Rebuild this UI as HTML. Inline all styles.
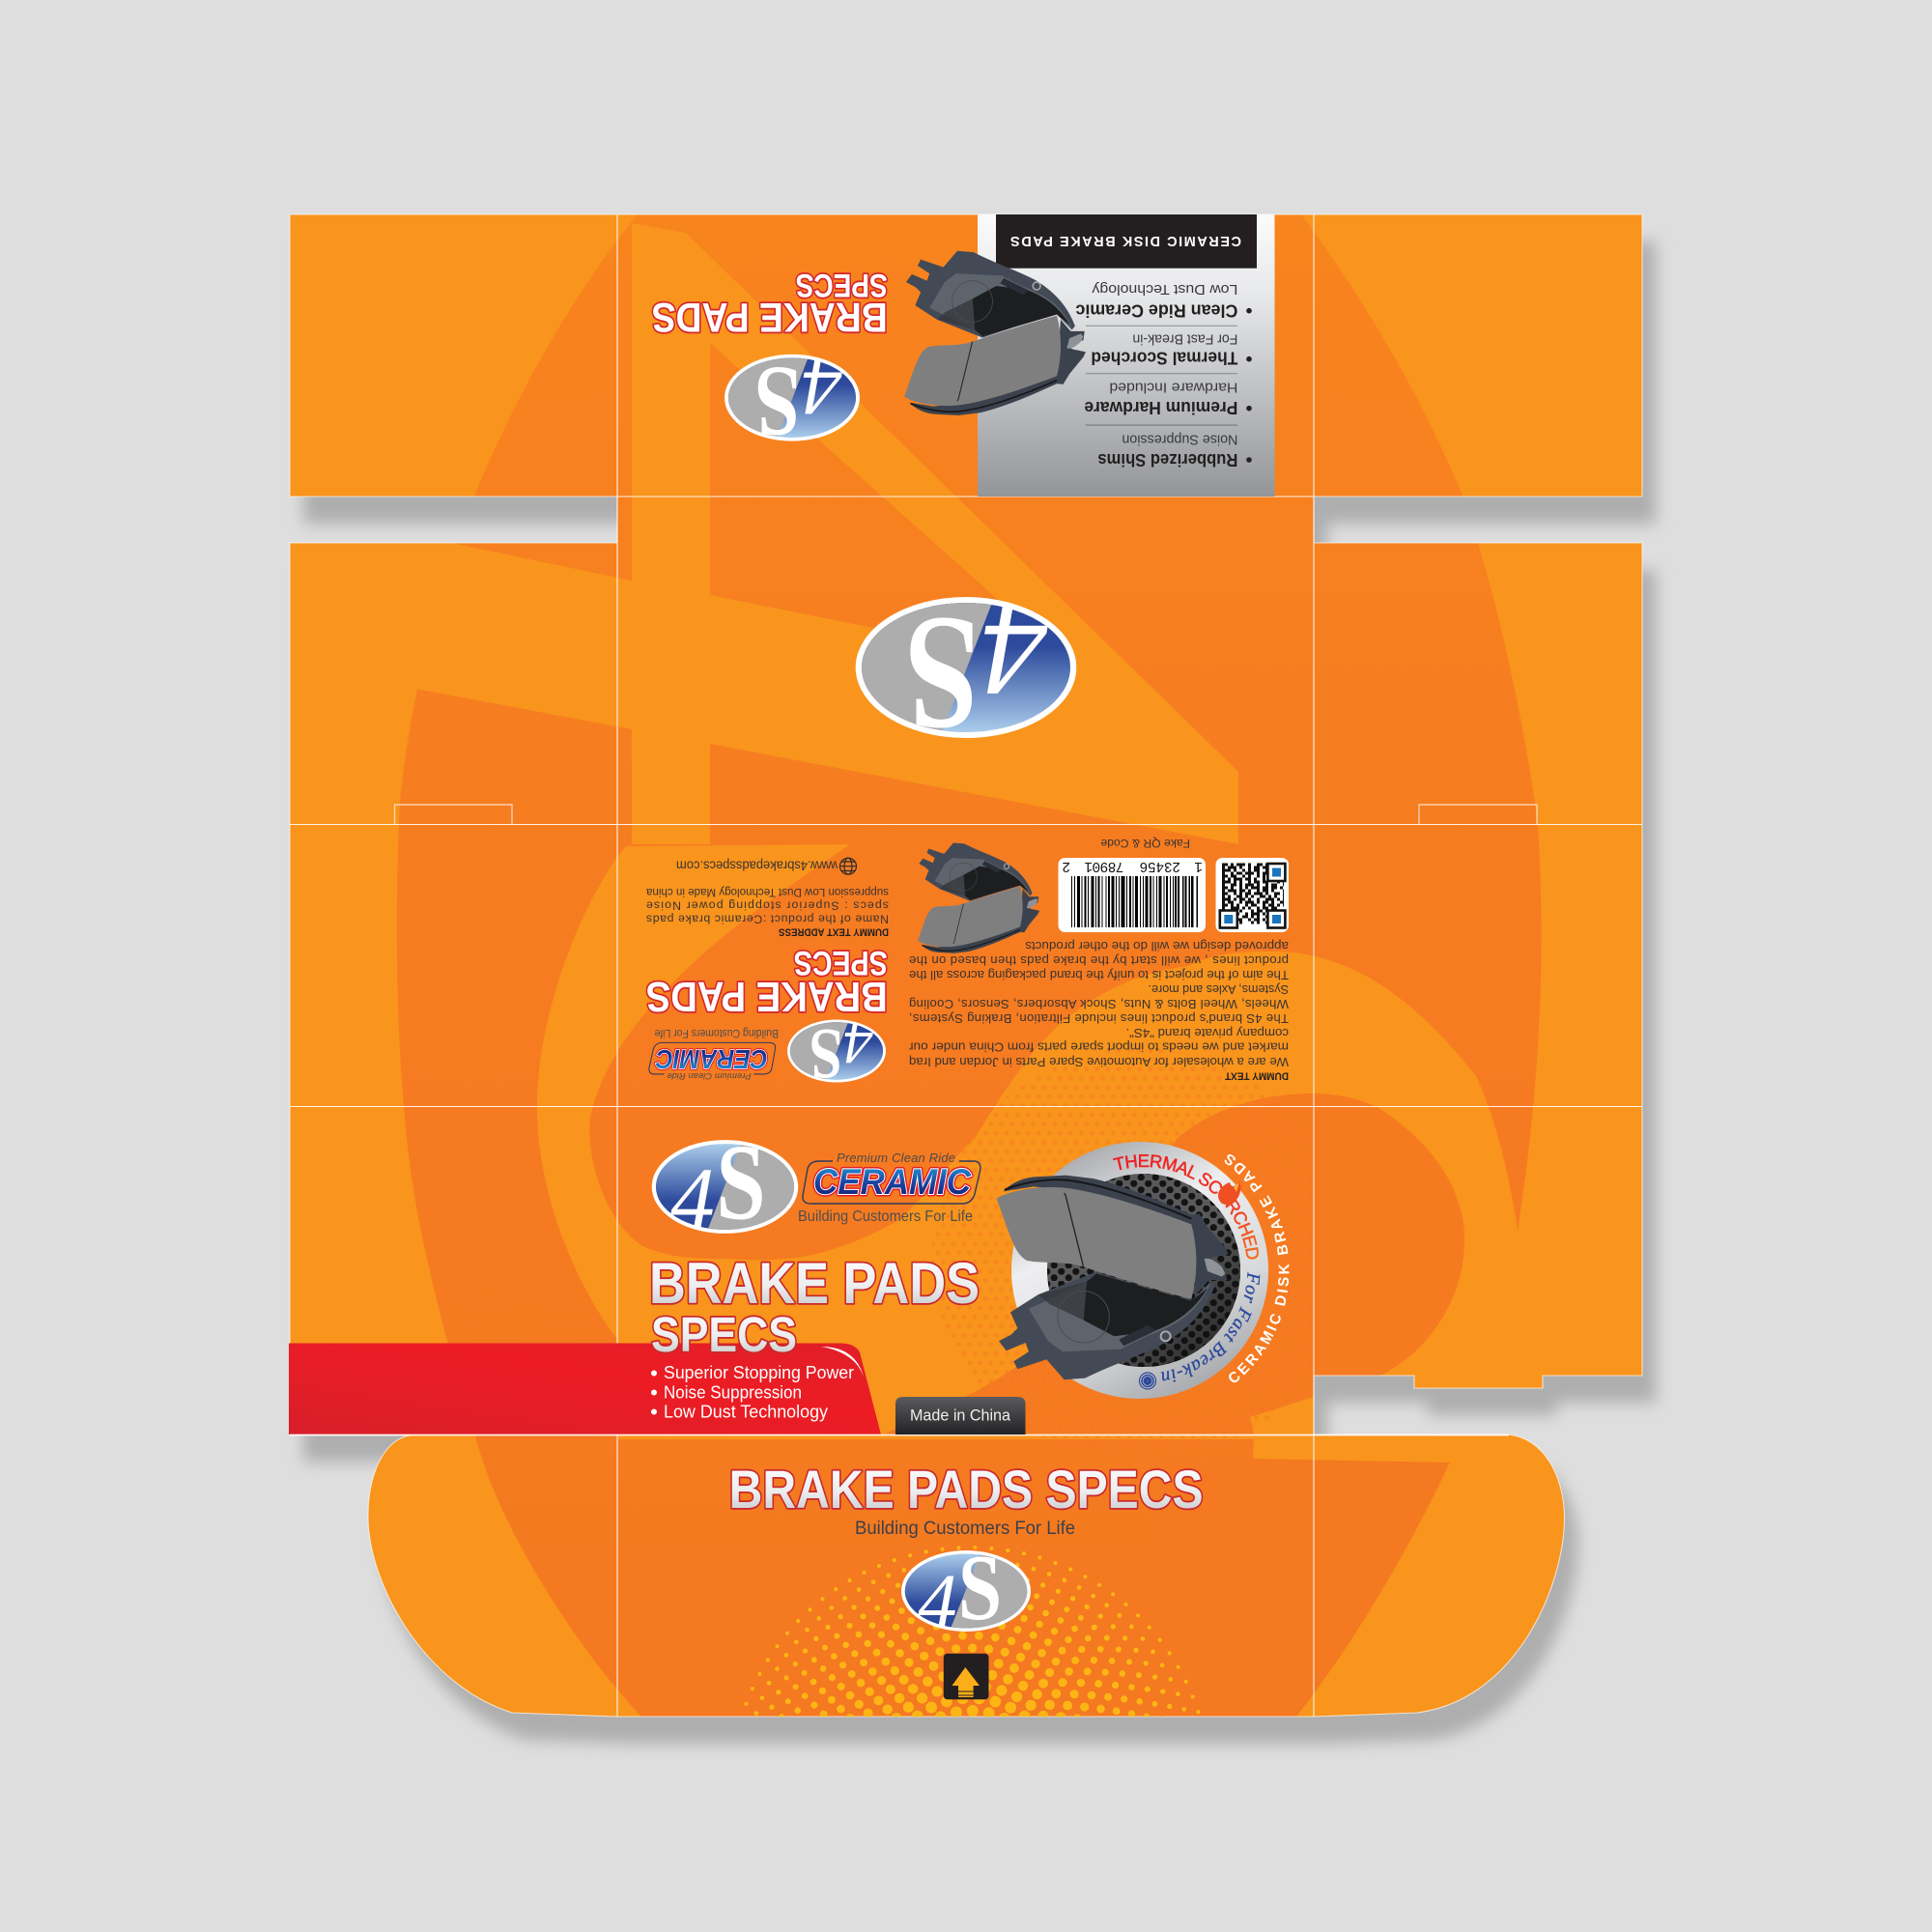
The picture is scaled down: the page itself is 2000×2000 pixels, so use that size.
<!DOCTYPE html>
<html><head><meta charset="utf-8"><title>Brake Pads Specs box dieline</title>
<style>
html,body{margin:0;padding:0;background:#dedede}
svg{display:block;font-family:"Liberation Sans",sans-serif}
.b{font-weight:bold}
.h{font-weight:bold;fill:#fff;stroke:#d5262b;stroke-width:3.6;paint-order:stroke;stroke-linejoin:round}
.f{font-weight:bold;fill:url(#silver);stroke:#c9282c;stroke-width:3.6;paint-order:stroke;stroke-linejoin:round}
.l4{font-family:"Liberation Serif",serif;font-style:italic;font-size:138px;fill:#fff}
.lS{font-family:"Liberation Serif",serif;font-weight:bold;font-size:170px;fill:#fff}
</style></head><body>
<svg xmlns="http://www.w3.org/2000/svg" width="2000" height="2000" viewBox="0 0 2000 2000">
<defs>
<filter id="sh" filterUnits="userSpaceOnUse" x="200" y="150" width="1650" height="1750"><feDropShadow dx="14" dy="28" stdDeviation="8" flood-color="#aeaeae" flood-opacity="1"/></filter>
<clipPath id="pn"><path d="M300,222H1700V514H1360V562H1700V1424H1597V1437H1464V1424H1360V1485H1562C1600,1490 1619,1530 1619.5,1570C1620,1640 1570,1760 1467,1773L1360,1777H639L530,1773C440,1745 381,1640 381,1570C381,1530 395,1490 426,1485.5H300V562H639V514H300Z"/></clipPath>
<linearGradient id="dk" gradientUnits="userSpaceOnUse" x1="0" y1="222" x2="0" y2="1777"><stop offset="0" stop-color="#f8841e"/><stop offset=".5" stop-color="#f67b21"/><stop offset="1" stop-color="#f47920"/></linearGradient>
<linearGradient id="silver" x1="0" y1="0" x2="0" y2="1"><stop offset="0" stop-color="#fff"/><stop offset=".55" stop-color="#eceded"/><stop offset="1" stop-color="#bfc1c3"/></linearGradient>
<linearGradient id="box" x1="0" y1="0" x2="0" y2="1"><stop offset="0" stop-color="#fbfbfb"/><stop offset=".3" stop-color="#e6e7e9"/><stop offset="1" stop-color="#939598"/></linearGradient>
<linearGradient id="red" x1="0" y1="1" x2="1" y2="0"><stop offset="0" stop-color="#d81f2a"/><stop offset=".6" stop-color="#ed1c24"/><stop offset="1" stop-color="#e01f28"/></linearGradient>
<linearGradient id="mic" x1="0" y1="0" x2="0" y2="1"><stop offset="0" stop-color="#5b5b5d"/><stop offset="1" stop-color="#232325"/></linearGradient>
<linearGradient id="lb" gradientUnits="userSpaceOnUse" x1="0" y1="-66" x2="0" y2="22"><stop offset="0" stop-color="#a8cbea"/><stop offset="1" stop-color="#2d4a9c"/></linearGradient>
<linearGradient id="cer" x1="0" y1="0" x2="0" y2="1"><stop offset="0" stop-color="#22a3dd"/><stop offset=".55" stop-color="#1c3f9e"/><stop offset="1" stop-color="#141f66"/></linearGradient>
<linearGradient id="rg" x1="0.2" y1="0" x2="0.7" y2="1"><stop offset="0" stop-color="#9c9ea1"/><stop offset=".35" stop-color="#eeeef0"/><stop offset=".7" stop-color="#d8d9db"/><stop offset="1" stop-color="#a4a6a9"/></linearGradient>
<linearGradient id="trd" gradientUnits="userSpaceOnUse" x1="1150" y1="1210" x2="1285" y2="1320"><stop offset="0" stop-color="#ed1c24"/><stop offset=".7" stop-color="#ee3a24"/><stop offset="1" stop-color="#f37021"/></linearGradient>
<linearGradient id="hd" x1="0.2" y1="0.2" x2="1" y2="1"><stop offset=".45" stop-color="#111" stop-opacity="0"/><stop offset="1" stop-color="#0c0c0d" stop-opacity=".8"/></linearGradient>
<clipPath id="lc"><ellipse cx="0" cy="0" rx="108" ry="67"/></clipPath>
<clipPath id="dc"><circle cx="1180" cy="1300" r="215"/></clipPath>
<clipPath id="ht"><rect x="700" y="1560" width="620" height="217"/></clipPath>
<pattern id="dots" width="11" height="19" patternUnits="userSpaceOnUse"><circle cx="2.75" cy="4.75" r="2.4" fill="#f47620"/><circle cx="8.25" cy="14.25" r="2.4" fill="#f47620"/></pattern>
<pattern id="hex" width="15" height="13" patternUnits="userSpaceOnUse"><rect width="15" height="13" fill="#5a5a5c"/><circle cx="3.75" cy="3.25" r="3.6" fill="#141415"/><circle cx="11.25" cy="9.75" r="3.6" fill="#141415"/></pattern>
<g id="pad">
<path d="M42,655L80,635L100,615L78,565L165,510L345,440L500,490L640,530L700,470L712,485C680,570 620,625 550,665C480,700 390,730 310,770L245,775L190,712L100,742L88,718L135,688L125,660L65,685Z" fill="#434a56"/>
<path d="M135,555L315,470L345,445L640,530L700,475C660,560 610,600 500,640L420,680L240,688L195,655Z" fill="#5e646c"/>
<path d="M315,470L345,445L640,530L690,490C650,560 590,600 520,625L400,640L305,590Z" fill="#1d1e20"/>
<path d="M165,512L315,470L305,590L200,540Z" fill="#34373c" opacity=".8"/>
<circle cx="305" cy="580" r="80" fill="none" stroke="#4a4c50" stroke-width="3"/>
<path d="M415,650L505,605L530,622L430,670Z" fill="#2a2e36"/>
<path d="M55,190C80,165 110,150 150,145L250,140L335,150C400,165 500,200 600,245L640,262L665,260L690,300L745,365L755,385L705,395L680,405L690,420L745,430L750,465L695,465L655,510L640,300C500,250 300,190 150,175Z" fill="#3c424d"/>
<path d="M60,185C120,160 200,150 250,155C350,165 500,215 640,275" fill="none" stroke="#15171a" stroke-width="6"/>
<path d="M35,212C70,190 150,172 240,178C350,190 500,240 640,292C655,350 665,430 640,525C560,505 430,465 305,425C250,405 180,415 130,405C100,390 85,350 70,310Z" fill="#7f7f80"/>
<path d="M245,195L250,205L305,425" fill="none" stroke="#232325" stroke-width="4"/>
<path d="M680,400Q700,392 735,425L745,445L735,455L690,438Z" fill="#8f9296"/>
<circle cx="560" cy="640" r="15" fill="none" stroke="#a8aaad" stroke-width="6"/>
</g>
</defs>
<rect width="2000" height="2000" fill="#dedede"/>
<path filter="url(#sh)" fill="#f9941d" d="M300,222H1700V514H1360V562H1700V1424H1597V1437H1464V1424H1360V1485H1562C1600,1490 1619,1530 1619.5,1570C1620,1640 1570,1760 1467,1773L1360,1777H639L530,1773C440,1745 381,1640 381,1570C381,1530 395,1490 426,1485.5H300V562H639V514H300Z"/>
<g clip-path="url(#pn)">
<path fill="url(#dk)" d="M660,222C585,315 530,420 491,513C455,600 425,720 414,830C408,950 410,1100 425,1210C435,1290 470,1420 492,1486C515,1580 600,1710 664,1777L1342,1777C1410,1690 1465,1590 1501,1514L1571,1274C1595,1120 1600,980 1592,854C1583,780 1555,630 1514,513C1475,420 1420,320 1347,222Z"/>
<path fill="#f9941d" d="M472,563L654,601V231L710,241L1282,799V874L735,770V874H654V755L420,711Z"/>
<path fill="url(#dk)" d="M735,355L1113,692L735,616Z"/>
<path fill="#f9941d" d="M648,876L880,874C800,930 640,1030 611,1156C605,1215 640,1285 676,1294C700,1303 730,1303 749,1303C790,1305 810,1305 841,1299C880,1290 920,1270 933,1261C960,1235 990,1195 1010,1177C1050,1110 1085,1065 1115,1046C1150,1020 1190,1005 1230,1000C1260,985 1290,985 1321,985C1360,985 1400,1000 1432,1021C1475,1050 1505,1085 1528,1114C1550,1160 1565,1230 1571,1274L1700,1274V1490H640L639,1387C590,1320 556,1230 556,1145C556,1040 610,920 648,876Z"/>
<path fill="#f57a20" d="M912,1486L1001,1445C1040,1425 1060,1410 1070,1400C1110,1350 1150,1270 1220,1177C1260,1145 1310,1132 1360,1132C1400,1132 1427,1147 1427,1147C1480,1180 1516,1230 1516,1282C1516,1350 1475,1400 1431,1423L1294,1467L1298,1486Z"/>
<path fill="#f9941d" d="M1298,1485H1702V1520H1501L1297,1510Z"/>
<path fill="#f47920" d="M1297,1510L1501,1514L1342,1777H1200V1510Z"/>
</g>
<g clip-path="url(#dc)"><rect x="639" y="1050" width="721" height="480" fill="url(#dots)" opacity=".45"/></g>
<!-- fold lines -->
<g fill="none" stroke="#fff" stroke-width="1.1" opacity=".9">
<path d="M639,222V1777M1360,222V1777"/>
<path d="M300,853.5H1700M300,1145.5H1700M639,514H1360"/>
<path d="M408.5,853V833H530V853M1469,853V833H1591V853" opacity=".7" stroke-width="1.4"/>
<path d="M300,222H1700V514H1360V562H1700V1424H1597V1437H1464V1424H1360V1485H1562C1600,1490 1619,1530 1619.5,1570C1620,1640 1570,1760 1467,1773L1360,1777H639L530,1773C440,1745 381,1640 381,1570C381,1530 395,1490 426,1485.5H300V562H639V514H300Z" opacity=".75"/>
</g>
<!-- gray panel -->
<rect x="1012" y="222" width="307.5" height="292" fill="url(#box)"/>
<rect x="1031" y="222" width="270" height="55.7" fill="#231f20"/>
<text transform="translate(1285,245) rotate(180)" class="b" fill="#fff" font-size="14.5" textLength="239" lengthAdjust="spacing">CERAMIC DISK BRAKE PADS</text>
<g><rect x="1124" y="336.7" width="157" height="1.2" fill="#9a9b9e"/><rect x="1124" y="386" width="157" height="1.3" fill="#929396"/><rect x="1124" y="439.3" width="157" height="1.6" fill="#898a8d"/></g>
<g fill="#231f20"><circle cx="1293" cy="321.7" r="2.8"/><circle cx="1293" cy="371.7" r="2.8"/><circle cx="1293" cy="422.7" r="2.8"/><circle cx="1293" cy="476" r="2.8"/></g>
<g fill="#231f20" font-size="18" class="b">
<text transform="translate(1281.4,315.3) rotate(180)" textLength="168" lengthAdjust="spacingAndGlyphs">Clean Ride Ceramic</text>
<text transform="translate(1281.4,364.3) rotate(180)" textLength="152" lengthAdjust="spacingAndGlyphs">Thermal Scorched</text>
<text transform="translate(1281.4,416) rotate(180)" textLength="159" lengthAdjust="spacingAndGlyphs">Premium Hardware</text>
<text transform="translate(1281.4,470) rotate(180)" textLength="145" lengthAdjust="spacingAndGlyphs">Rubberized Shims</text>
</g>
<g fill="#3a3a3c" font-size="15">
<text transform="translate(1281.4,295) rotate(180)" textLength="151" lengthAdjust="spacingAndGlyphs">Low Dust Technology</text>
<text transform="translate(1281.4,346.7) rotate(180)" textLength="109" lengthAdjust="spacingAndGlyphs">For Fast Break-in</text>
<text transform="translate(1281.4,396.7) rotate(180)" textLength="133" lengthAdjust="spacingAndGlyphs">Hardware Included</text>
<text transform="translate(1281.4,450.7) rotate(180)" textLength="120" lengthAdjust="spacingAndGlyphs">Noise Suppression</text>
</g>
<use href="#pad" transform="translate(927,467.5) scale(.261,-.268)"/>
<!-- top headings -->
<text transform="translate(918.7,314) rotate(180)" class="h" font-size="43" textLength="244" lengthAdjust="spacingAndGlyphs">BRAKE PADS</text>
<text transform="translate(918.7,284) rotate(180)" class="h" font-size="34" textLength="95" lengthAdjust="spacingAndGlyphs">SPECS</text>
<!-- logos -->
<g transform="translate(820,411.7) rotate(180) scale(.612,.616)"><ellipse rx="114.3" ry="73" fill="#fff"/><g clip-path="url(#lc)"><rect x="-120" y="-80" width="240" height="160" fill="url(#lb)"/><path d="M30,-80L-32,80H120V-80Z" fill="#adadad"/></g><text x="-85" y="64" class="l4">4</text><text transform="translate(-14,50) scale(.82,1)" class="lS">S</text></g>
<g transform="translate(1000,691) rotate(180)"><ellipse rx="114.3" ry="73" fill="#fff"/><g clip-path="url(#lc)"><rect x="-120" y="-80" width="240" height="160" fill="url(#lb)"/><path d="M30,-80L-32,80H120V-80Z" fill="#adadad"/></g><text x="-85" y="64" class="l4">4</text><text transform="translate(-14,50) scale(.82,1)" class="lS">S</text></g>
<g transform="translate(866,1088) rotate(180) scale(.446,.445)"><ellipse rx="114.3" ry="73" fill="#fff"/><g clip-path="url(#lc)"><rect x="-120" y="-80" width="240" height="160" fill="url(#lb)"/><path d="M30,-80L-32,80H120V-80Z" fill="#adadad"/></g><text x="-85" y="64" class="l4">4</text><text transform="translate(-14,50) scale(.82,1)" class="lS">S</text></g>
<!-- back panel -->
<use href="#pad" transform="translate(944,1012) scale(.175,-.18)"/>
<text transform="translate(918.7,1017) rotate(180)" class="h" font-size="44" textLength="250" lengthAdjust="spacingAndGlyphs">BRAKE PADS</text>
<text transform="translate(918.7,985) rotate(180)" class="h" font-size="35" textLength="97" lengthAdjust="spacingAndGlyphs">SPECS</text>
<g fill="#3a3330" font-size="12.3">
<text transform="translate(920,961.7) rotate(180)" class="b" font-size="11" textLength="114" lengthAdjust="spacingAndGlyphs" fill="#231f20">DUMMY TEXT ADDRESS</text>
<text transform="translate(920,947.3) rotate(180)" textLength="251" lengthAdjust="spacing">Name of the product :Ceramic brake pads</text>
<text transform="translate(920,933.3) rotate(180)" textLength="251" lengthAdjust="spacing">specs : Superior stopping power Noise</text>
<text transform="translate(920,920) rotate(180)" textLength="251" lengthAdjust="spacingAndGlyphs">suppression Low Dust Technology Made in china</text>
<text transform="translate(867,891.7) rotate(180)" font-size="13.5" textLength="167" lengthAdjust="spacingAndGlyphs">www.4sbrakepadsspecs.com</text>
</g>
<g fill="none" stroke="#2b2b2b" stroke-width="1.2"><circle cx="878" cy="896.7" r="8.5"/><ellipse cx="878" cy="896.7" rx="4" ry="8.5"/><path d="M869.5,896.7H886.5M871,892H885M871,901.5H885"/></g>
<g fill="#3a3330" font-size="13.2">
<text transform="translate(1334,1110.7) rotate(180)" class="b" font-size="11" textLength="66" lengthAdjust="spacingAndGlyphs" fill="#231f20">DUMMY TEXT</text>
<text transform="translate(1334,1095) rotate(180)" textLength="393" lengthAdjust="spacingAndGlyphs">We are a wholesaler for Automotive Spare Parts in Jordan and Iraq</text>
<text transform="translate(1334,1079.3) rotate(180)" textLength="393" lengthAdjust="spacingAndGlyphs">market and we needs to import spare parts from China under our</text>
<text transform="translate(1334,1065) rotate(180)" textLength="168.5" lengthAdjust="spacingAndGlyphs">company private brand "4S".</text>
<text transform="translate(1334,1050) rotate(180)" textLength="393" lengthAdjust="spacing">The 4S brand's product lines include Filtration, Braking Systems,</text>
<text transform="translate(1334,1035) rotate(180)" textLength="393" lengthAdjust="spacing">Wheels, Wheel Bolts &amp; Nuts, Shock Absorbers, Sensors, Cooling</text>
<text transform="translate(1334,1020) rotate(180)" textLength="145.5" lengthAdjust="spacingAndGlyphs">Systems, Axles and more.</text>
<text transform="translate(1334,1005) rotate(180)" textLength="393" lengthAdjust="spacingAndGlyphs">The aim of the project is to unify the brand packaging across all the</text>
<text transform="translate(1334,990) rotate(180)" textLength="393" lengthAdjust="spacing">product lines , we will start by the brake pads then based on the</text>
<text transform="translate(1334,975) rotate(180)" textLength="272.7" lengthAdjust="spacingAndGlyphs">approved design we will do the other products</text>
<text transform="translate(1232,869) rotate(180)" font-size="12" textLength="92.5" lengthAdjust="spacingAndGlyphs">Fake QR &amp; Code</text>
</g>
<rect x="1095.5" y="888" width="152.5" height="77" rx="7" fill="#fff"/>
<line x1="1109" x2="1240" y1="933.5" y2="933.5" stroke="#000" stroke-width="53" stroke-dasharray="1 2 1 2 3 1.5 1 2 2 1.5 1 2.5 3 1.5 1 1.5 2 2 1 3 1 1.5 2 1.5 3 1.5 1 2 1 1.5 4 1.5 1 2 2 1.5 1 1.5 3 2 1 2 1 1.5 3 1.5 2 1.5 1 2.5 1 1.5 3 2 1 1.5 2 2 1 2 1"/>
<g font-family="Liberation Mono" font-size="14.5" fill="#111">
<text transform="translate(1245,893) rotate(180)">1</text>
<text transform="translate(1222,893) rotate(180)" textLength="42.5">23456</text>
<text transform="translate(1163.4,893) rotate(180)" textLength="41">78901</text>
<text transform="translate(1108,893) rotate(180)">2</text>
</g>
<rect x="1258.5" y="888" width="75.5" height="77" rx="7" fill="#fff"/>
<g stroke="#111" stroke-width="3">
<line x1="1265" x2="1329" y1="895" y2="895" stroke-dasharray="6 3 3 3 9 3 3 6 6 3 3 6"/>
<line x1="1265" x2="1329" y1="898" y2="898" stroke-dasharray="3 3 9 3 3 6 3 3 6 3 9"/>
<line x1="1265" x2="1329" y1="901" y2="901" stroke-dasharray="9 3 3 6 3 3 3 3 6 6"/>
<line x1="1265" x2="1329" y1="904" y2="904" stroke-dasharray="3 6 3 3 6 3 9 3 3"/>
<line x1="1265" x2="1329" y1="907" y2="907" stroke-dasharray="6 3 6 6 3 3 3 6 3 3 3"/>
<line x1="1265" x2="1329" y1="910" y2="910" stroke-dasharray="3 3 3 3 9 3 6 3 3 6"/>
<line x1="1265" x2="1329" y1="913" y2="913" stroke-dasharray="9 3 3 3 3 6 3 3 6 3 6"/>
<line x1="1265" x2="1329" y1="916" y2="916" stroke-dasharray="3 6 6 3 3 3 9 3 3 6 3"/>
<line x1="1265" x2="1329" y1="919" y2="919" stroke-dasharray="6 3 3 6 3 3 3 3 9 3 6 3"/>
<line x1="1265" x2="1329" y1="922" y2="922" stroke-dasharray="3 3 9 3 6 3 3 6 3 3 6"/>
<line x1="1265" x2="1329" y1="925" y2="925" stroke-dasharray="6 6 3 3 3 3 6 3 9 3 3"/>
<line x1="1265" x2="1329" y1="928" y2="928" stroke-dasharray="3 3 3 6 6 3 3 3 3 6 6 3"/>
<line x1="1265" x2="1329" y1="931" y2="931" stroke-dasharray="9 3 3 3 6 3 3 6 3 6"/>
<line x1="1265" x2="1329" y1="934" y2="934" stroke-dasharray="3 3 6 6 3 3 9 3 3 3 6"/>
<line x1="1265" x2="1329" y1="937" y2="937" stroke-dasharray="6 3 3 3 3 6 3 3 6 6 3 3"/>
<line x1="1265" x2="1329" y1="940" y2="940" stroke-dasharray="3 6 9 3 3 3 3 6 3 3 6"/>
<line x1="1265" x2="1329" y1="943" y2="943" stroke-dasharray="6 3 3 6 3 9 3 3 6 3"/>
<line x1="1265" x2="1329" y1="946" y2="946" stroke-dasharray="3 3 6 3 3 6 3 3 9 3 3"/>
<line x1="1265" x2="1329" y1="949" y2="949" stroke-dasharray="9 3 3 6 6 3 3 3 3 6"/>
<line x1="1265" x2="1329" y1="952" y2="952" stroke-dasharray="3 3 3 3 9 6 3 3 6 3"/>
<line x1="1265" x2="1329" y1="955" y2="955" stroke-dasharray="6 6 3 3 3 9 3 3 3 6"/>
</g>
<g fill="#fff" stroke="#111" stroke-width="2.6"><rect x="1312.4" y="894" width="18" height="18"/><rect x="1262.8" y="942.5" width="18" height="18"/><rect x="1312.4" y="942.5" width="18" height="18"/></g>
<g fill="#1c75bc"><rect x="1317" y="898.5" width="9" height="9"/><rect x="1267.3" y="947" width="9" height="9"/><rect x="1317" y="947" width="9" height="9"/></g>
<!-- back ceramic -->
<g transform="matrix(-.71 0 0 -.74 1392.5 2001.4)">
<path d="M848,1202H862M993,1202H1008Q1015,1202 1015,1210L1009,1236Q1006,1246 996,1246H840Q830,1246 831,1238L836,1210Q838,1202 848,1202" fill="none" stroke="#2f3a5a" stroke-width="1.4"/>
<text x="842" y="1236" font-size="37" font-weight="bold" font-style="italic" textLength="163" lengthAdjust="spacingAndGlyphs" fill="none" stroke="#e31e26" stroke-width="5" stroke-linejoin="round">CERAMIC</text>
<text x="842" y="1236" font-size="37" font-weight="bold" font-style="italic" textLength="163" lengthAdjust="spacingAndGlyphs" fill="url(#cer)" stroke="#fff" stroke-width="2" paint-order="stroke">CERAMIC</text>
<text x="866" y="1203" font-size="13" font-style="italic" textLength="123" lengthAdjust="spacing" fill="#4a4a4a">Premium Clean Ride</text>
<text x="826" y="1264" font-size="16" textLength="181" lengthAdjust="spacingAndGlyphs" fill="#4e4e4e">Building Customers For Life</text>
</g>
<!-- front panel -->
<path d="M299,1390.5H868Q885,1390 890,1400L912,1485H299Z" fill="url(#red)"/>
<path d="M850,1394Q885,1394 894,1425Q885,1400 850,1394Z" fill="#fff"/>
<path d="M300,1485.5H1562" fill="none" stroke="#fff" stroke-width="1.8" opacity=".9"/>
<g transform="translate(750.5,1228.5) scale(.663)"><ellipse rx="114.3" ry="73" fill="#fff"/><g clip-path="url(#lc)"><rect x="-120" y="-80" width="240" height="160" fill="url(#lb)"/><path d="M30,-80L-32,80H120V-80Z" fill="#adadad"/></g><text x="-85" y="64" class="l4">4</text><text transform="translate(-14,50) scale(.82,1)" class="lS">S</text></g>
<g>
<path d="M848,1202H862M993,1202H1008Q1015,1202 1015,1210L1009,1236Q1006,1246 996,1246H840Q830,1246 831,1238L836,1210Q838,1202 848,1202" fill="none" stroke="#2f3a5a" stroke-width="1.4"/>
<text x="842" y="1236" font-size="37" font-weight="bold" font-style="italic" textLength="163" lengthAdjust="spacingAndGlyphs" fill="none" stroke="#e31e26" stroke-width="5" stroke-linejoin="round">CERAMIC</text>
<text x="842" y="1236" font-size="37" font-weight="bold" font-style="italic" textLength="163" lengthAdjust="spacingAndGlyphs" fill="url(#cer)" stroke="#fff" stroke-width="2" paint-order="stroke">CERAMIC</text>
<text x="866" y="1203" font-size="13" font-style="italic" textLength="123" lengthAdjust="spacing" fill="#4a4a4a">Premium Clean Ride</text>
<text x="826" y="1264" font-size="16" textLength="181" lengthAdjust="spacingAndGlyphs" fill="#4e4e4e">Building Customers For Life</text>
</g>
<text x="672" y="1349" class="f" font-size="60" textLength="342" lengthAdjust="spacingAndGlyphs">BRAKE PADS</text>
<text x="674" y="1399" class="f" font-size="51" textLength="151" lengthAdjust="spacingAndGlyphs">SPECS</text>
<g fill="#fff" font-size="18"><circle cx="677" cy="1421.5" r="3"/><circle cx="677" cy="1441.5" r="3"/><circle cx="677" cy="1461.5" r="3"/>
<text x="687" y="1427" textLength="197" lengthAdjust="spacingAndGlyphs">Superior Stopping Power</text>
<text x="687" y="1447.5" textLength="143" lengthAdjust="spacingAndGlyphs">Noise Suppression</text>
<text x="687" y="1467.5" textLength="170" lengthAdjust="spacingAndGlyphs">Low Dust Technology</text></g>
<path d="M927,1485V1453Q927,1446 935,1446H1053Q1061.5,1446 1061.5,1453V1485Z" fill="url(#mic)"/>
<text x="942" y="1470.7" font-size="17" fill="#eee" textLength="104" lengthAdjust="spacingAndGlyphs">Made in China</text>
<!-- rotor ring -->
<circle cx="1180" cy="1315" r="133" fill="url(#rg)"/>
<circle cx="1184" cy="1315" r="100" fill="url(#hex)"/>
<circle cx="1184" cy="1315" r="100" fill="url(#hd)"/>
<path id="rt" d="M1154.9,1212.1A107,107 0 1 1 1147.8,1415.5" fill="none"/>
<text font-size="18.5" fill="url(#trd)" stroke="url(#trd)" stroke-width=".5" textLength="188" lengthAdjust="spacing"><textPath href="#rt">THERMAL SCORCHED</textPath></text>
<text font-family="Liberation Serif" font-style="italic" font-size="19.5" fill="#2c4a9c" stroke="#2c4a9c" stroke-width=".3" letter-spacing=".5"><textPath href="#rt" startOffset="200">For Fast Break-in</textPath></text>
<path id="ct" d="M1276.7,1433.2A150,150 0 0 0 1235.7,1174" fill="none"/>
<text class="b" font-size="15.5" fill="#fff" letter-spacing="2.65"><textPath href="#ct">CERAMIC DISK BRAKE PADS</textPath></text>
<g fill="none" stroke="#2c4a9c"><circle cx="1188" cy="1429.5" r="2.5" stroke-width="4"/><circle cx="1188" cy="1429.5" r="6" stroke-width="1.5"/><circle cx="1188" cy="1429.5" r="8.5" stroke-width="1.2"/></g>
<path d="M1265,1246C1255,1236 1266,1226 1273,1224C1275,1232 1282,1226 1283,1222C1287,1232 1282,1244 1272,1248Z" fill="#f04e23"/>
<path d="M1277,1229L1283,1224L1280,1234Z" fill="#fbb040"/>
<use href="#pad" transform="translate(1020,1170) scale(.3333)"/>
<!-- bottom panel -->
<g clip-path="url(#ht)" fill="none" stroke="#fdb515" stroke-linecap="round" stroke-dasharray="0 17">
<circle cx="1005" cy="1850" r="248" stroke-width="4"/><circle cx="1005" cy="1850" r="235" stroke-width="4.7"/><circle cx="1005" cy="1850" r="222" stroke-width="5.3"/><circle cx="1005" cy="1850" r="209" stroke-width="6"/><circle cx="1005" cy="1850" r="196" stroke-width="6.6"/><circle cx="1005" cy="1850" r="183" stroke-width="7.3"/><circle cx="1005" cy="1850" r="170" stroke-width="7.9"/><circle cx="1005" cy="1850" r="157" stroke-width="8.6"/><circle cx="1005" cy="1850" r="144" stroke-width="9.2"/><circle cx="1005" cy="1850" r="131" stroke-width="9.9"/><circle cx="1005" cy="1850" r="118" stroke-width="10.5"/><circle cx="1005" cy="1850" r="105" stroke-width="11.2"/><circle cx="1005" cy="1850" r="92" stroke-width="11.8"/><circle cx="1005" cy="1850" r="79" stroke-width="12"/>
</g>
<text x="754.6" y="1561" class="f" font-size="56" textLength="491" lengthAdjust="spacingAndGlyphs">BRAKE PADS SPECS</text>
<text x="885" y="1588" font-size="19" textLength="228" lengthAdjust="spacingAndGlyphs" fill="#3b3f4a">Building Customers For Life</text>
<g transform="translate(1000,1647) scale(.586,.575)"><ellipse rx="114.3" ry="73" fill="#fff"/><g clip-path="url(#lc)"><rect x="-120" y="-80" width="240" height="160" fill="url(#lb)"/><path d="M30,-80L-32,80H120V-80Z" fill="#adadad"/></g><text x="-85" y="64" class="l4">4</text><text transform="translate(-14,50) scale(.82,1)" class="lS">S</text></g>
<rect x="976.8" y="1711.7" width="46.7" height="47.6" rx="4" fill="#231f20"/>
<path d="M999.3,1726L1014,1745H1007.6V1757H992V1745H985.5Z" fill="#fbae17"/>
<path d="M992,1751H1007.6M992,1755H1007.6" stroke="#231f20" stroke-width="1"/>
</svg>
</body></html>
